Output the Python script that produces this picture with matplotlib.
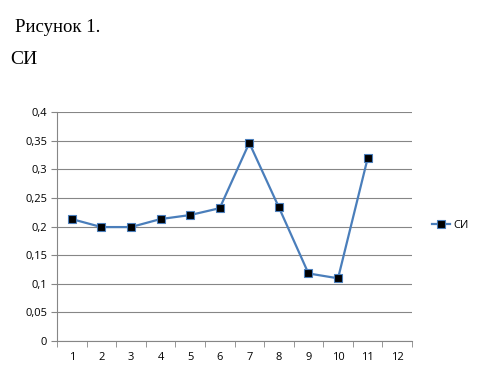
import matplotlib
matplotlib.use("Agg")
import matplotlib.pyplot as plt
from matplotlib.ticker import FixedLocator

categories = ["1", "2", "3", "4", "5", "6", "7", "8", "9", "10", "11", "12"]
si_values = [0.213, 0.199, 0.199, 0.213, 0.220, 0.232, 0.346, 0.2335, 0.118, 0.1095, 0.319]
y_ticks = [0, 0.05, 0.1, 0.15, 0.2, 0.25, 0.3, 0.35, 0.4]
y_tick_labels = ["0", "0,05", "0,1", "0,15", "0,2", "0,25", "0,3", "0,35", "0,4"]
series_name = "СИ"

fig = plt.figure(figsize=(4.8, 3.74), dpi=100)
fig.patch.set_facecolor("white")

fig.text(15/480, 1 - 28/374, "Рисунок 1.", family="Liberation Serif", fontsize=13.5,
         va="center", ha="left")
fig.text(10/480, 1 - 59/374, "СИ", family="Liberation Serif", fontsize=14,
         va="center", ha="left")

ax = fig.add_axes([57/480, 33/374, 355/480, 229/374])
xs = [i + 0.5 for i in range(len(si_values))]
line, = ax.plot(xs, si_values, color="#4a7ebb", lw=1.6, marker="s", ms=6,
                mfc="black", mec="#4a7ebb", mew=0.8, label=series_name)

ax.set_xlim(0, len(categories))
ax.set_ylim(0, 0.4)
ax.set_yticks(y_ticks)
ax.set_yticklabels(y_tick_labels)
ax.set_xticks([i + 0.5 for i in range(len(categories))])
ax.set_xticklabels(categories)
ax.xaxis.set_minor_locator(FixedLocator(range(len(categories) + 1)))
ax.tick_params(axis="x", which="major", length=0, pad=8, labelsize=8, colors="black")
ax.tick_params(axis="x", which="minor", length=4, color="#868686")
ax.tick_params(axis="y", length=4, color="#868686", labelsize=8, pad=3)
for lbl in ax.get_xticklabels() + ax.get_yticklabels():
    lbl.set_family("Open Sans")

ax.grid(axis="y", color="#868686", lw=0.8)
ax.set_axisbelow(True)
for s in ["top", "right"]:
    ax.spines[s].set_visible(False)
for s in ["left", "bottom"]:
    ax.spines[s].set_color("#868686")
    ax.spines[s].set_linewidth(0.8)

leg = fig.legend(handles=[line], loc="center left", bbox_to_anchor=(422/480, 1 - 225/374),
                 frameon=False, handlelength=1.6, handletextpad=0.3,
                 prop={"family": "Open Sans", "size": 8})

fig.savefig("out.png", dpi=100)
